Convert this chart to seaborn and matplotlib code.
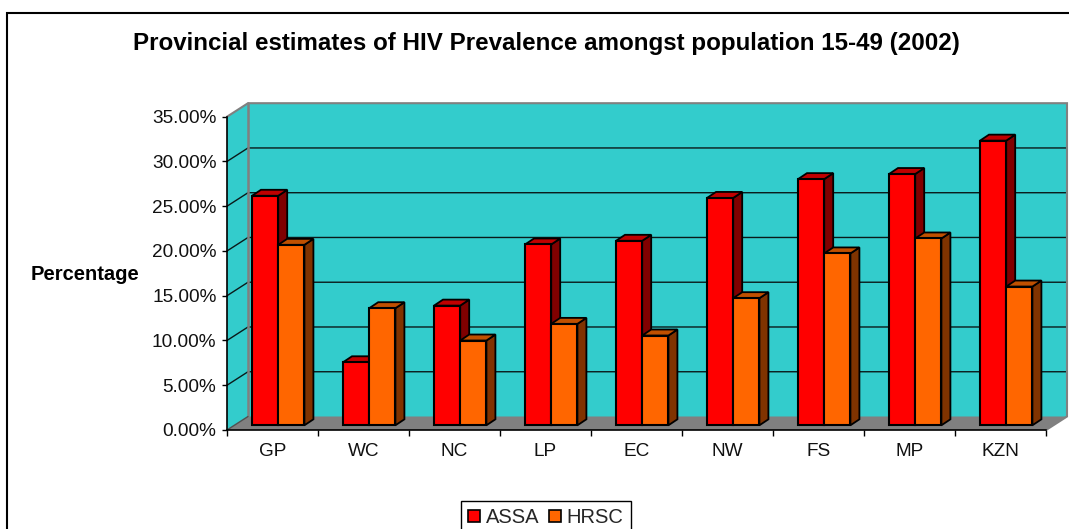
import matplotlib
matplotlib.use("Agg")
import matplotlib.pyplot as plt
from matplotlib.patches import Polygon, Rectangle
import pandas as pd
import seaborn as sns

# HIV prevalence by province, in percent
provinces = ["GP", "WC", "NC", "LP", "EC", "NW", "FS", "MP", "KZN"]
assa = [25.64, 7.04, 13.37, 20.2, 20.61, 25.4, 27.5, 28.07, 31.8]
hrsc = [20.16, 13.08, 9.47, 11.33, 10.03, 14.2, 19.2, 20.87, 15.5]
y_ticks = [0, 5, 10, 15, 20, 25, 30, 35]
sources = ["ASSA", "HRSC"]

W, H = 1069, 529
DPI = 100
X0, X1 = 227, 1046     # front plane of the plot, pixels
Y0, Y1 = 430, 116.7
PX_X = (X1 - X0) / len(provinces)   # pixels per category
PX_Y = (Y0 - Y1) / 35               # pixels per percentage point

# oblique offsets used to fake the 3-D box, in data units
WALL_DX, WALL_DY = 21 / PX_X, 13.5 / PX_Y
BAR_DX, BAR_DY = 5.7 / PX_X, 4.7 / PX_Y
SIDE_DX, SIDE_DY = 9 / PX_X, 6 / PX_Y

sns.set_theme(style="white")
plt.rcParams["font.family"] = ["Liberation Sans", "DejaVu Sans"]

df = pd.DataFrame({
    "province": provinces * 2,
    "value": assa + hrsc,
    "source": [sources[0]] * len(assa) + [sources[1]] * len(hrsc),
})

fig = plt.figure(figsize=(W / DPI, H / DPI), dpi=DPI, facecolor="white")
ax = fig.add_axes([X0 / W, (H - Y0) / H, (X1 - X0) / W, (Y0 - Y1) / H])
ax.patch.set_visible(False)

front_colors = {"ASSA": "#FF0000", "HRSC": "#FF6600"}
sns.barplot(data=df, x="province", y="value", hue="source", order=provinces,
            hue_order=sources, palette=front_colors, width=0.576, gap=0,
            edgecolor="black", linewidth=1.5, saturation=1, ax=ax)

xl, xr = -0.5, len(provinces) - 0.5
ax.set_xlim(xl, xr)
ax.set_ylim(0, 35)

# walls and floor
teal, grey = "#33CCCC", "#808080"
ax.add_patch(Polygon([(xl + WALL_DX, WALL_DY), (xr + WALL_DX, WALL_DY),
                      (xr + WALL_DX, 35 + WALL_DY), (xl + WALL_DX, 35 + WALL_DY)],
                     fc=teal, ec="none", zorder=0.1, clip_on=False))
ax.add_patch(Polygon([(xl, 0), (xl + WALL_DX, WALL_DY),
                      (xl + WALL_DX, 35 + WALL_DY), (xl, 35)],
                     fc=teal, ec="none", zorder=0.1, clip_on=False))
ax.add_patch(Polygon([(xl, 0), (xr, 0), (xr + WALL_DX, WALL_DY), (xl + WALL_DX, WALL_DY)],
                     fc=grey, ec="none", zorder=0.2, clip_on=False))

# gridlines run across the back wall and down the side wall
for t in y_ticks[1:-1]:
    ax.plot([xl, xl + WALL_DX, xr + WALL_DX], [t, t + WALL_DY, t + WALL_DY],
            color="#0a1a1a", lw=1.0, zorder=0.5, clip_on=False, solid_joinstyle="miter")

# box outline
ax.plot([xl, xl + WALL_DX, xr + WALL_DX, xr + WALL_DX, xr],
        [35, 35 + WALL_DY, 35 + WALL_DY, WALL_DY, 0],
        color=grey, lw=1.5, zorder=0.6, clip_on=False, solid_joinstyle="miter")
ax.plot([xl + WALL_DX, xl + WALL_DX], [WALL_DY, 35 + WALL_DY],
        color=grey, lw=1.8, zorder=0.6, clip_on=False)
ax.plot([xl, xl + WALL_DX], [0, WALL_DY], color="#505050", lw=1.0, zorder=0.6, clip_on=False)

# extrude each bar with a darker side and top face
side_colors = {"ASSA": "#800000", "HRSC": "#803300"}
top_colors = {"ASSA": "#C00000", "HRSC": "#C05000"}
for i, (name, container) in enumerate(zip(sources, ax.containers)):
    base_z = 3 + 2 * i
    for bar in container.patches:
        bar.set_x(bar.get_x() + BAR_DX)
        bar.set_y(BAR_DY)
        bar.set_zorder(base_z + 1)
        bar.set_clip_on(False)
        left, right = bar.get_x(), bar.get_x() + bar.get_width()
        bottom, top = BAR_DY, BAR_DY + bar.get_height()
        ax.add_patch(Polygon([(right, bottom), (right + SIDE_DX, bottom + SIDE_DY),
                              (right + SIDE_DX, top + SIDE_DY), (right, top)],
                             fc=side_colors[name], ec="black", lw=1.3,
                             zorder=base_z, clip_on=False))
        ax.add_patch(Polygon([(left, top), (right, top),
                              (right + SIDE_DX, top + SIDE_DY), (left + SIDE_DX, top + SIDE_DY)],
                             fc=top_colors[name], ec="black", lw=1.3,
                             zorder=base_z, clip_on=False))

# axes, ticks and labels
for s in ("top", "right"):
    ax.spines[s].set_visible(False)
for s in ("left", "bottom"):
    ax.spines[s].set_visible(True)
    ax.spines[s].set_color("black")
    ax.spines[s].set_linewidth(1.2)
    ax.spines[s].set_zorder(10)

tick_size = 13.7
ax.set_yticks(y_ticks)
ax.set_yticklabels([f"{t:.2f}%" for t in y_ticks], fontsize=tick_size, color="#111111")
ax.tick_params(axis="y", left=True, length=3.6, width=1.0, color="black", pad=4)

ax.set_xticks([k - 0.5 for k in range(len(provinces) + 1)])
ax.set_xticklabels([])
ax.set_xticks(range(len(provinces)), minor=True)
ax.set_xticklabels(provinces, minor=True, fontsize=tick_size, color="#111111")
ax.tick_params(axis="x", which="major", bottom=True, length=4.5, width=1.0, color="black")
ax.tick_params(axis="x", which="minor", bottom=False, length=0, pad=9)

ax.set_xlabel("")
ax.set_ylabel("Percentage", rotation=0, fontsize=14.5, fontweight="bold", color="black",
              ha="center", va="center")
ax.yaxis.set_label_coords((85.5 - X0) / (X1 - X0), (Y0 - 274) / (Y0 - Y1))

ax.set_title("Provincial estimates of HIV Prevalence amongst population 15-49 (2002)",
             fontsize=17.4, fontweight="bold", color="black", va="center",
             x=(546 - X0) / (X1 - X0), y=(Y0 - 52) / (Y0 - Y1))

# legend box runs off the lower edge of the canvas
default_legend = ax.get_legend()
handles = default_legend.legend_handles
labels = [t.get_text() for t in default_legend.get_texts()]
leg = ax.legend(handles, labels, ncol=2, loc="upper left",
                bbox_to_anchor=(460.7 / W, (H - 500.7) / H), bbox_transform=fig.transFigure,
                frameon=True, fancybox=False, framealpha=1, edgecolor="black",
                fontsize=14.5, handlelength=0.6, handleheight=0.5, handletextpad=0.3,
                columnspacing=0.45, borderpad=0.36, borderaxespad=0)
leg.get_frame().set_linewidth(1.0)
leg.set_zorder(20)
for h in leg.legend_handles:
    h.set_edgecolor("black")
    h.set_linewidth(1.2)

# outer chart frame, whose right and lower edges lie beyond the canvas
fig.add_artist(Rectangle((7 / W, -0.1), 1.1, (H - 13) / H + 0.1, transform=fig.transFigure,
                         fc="none", ec="black", lw=1.5))

fig.savefig("out.png", dpi=DPI)
